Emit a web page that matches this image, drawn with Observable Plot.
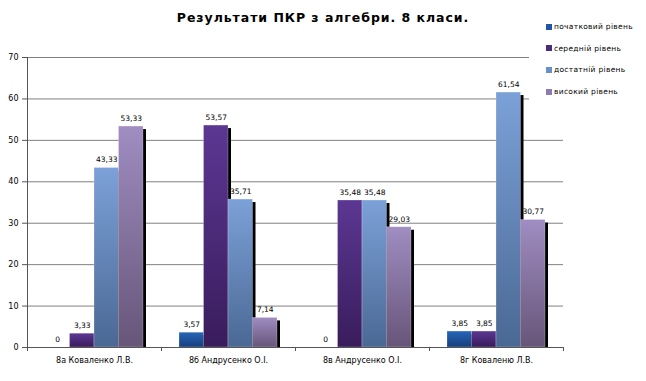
<!DOCTYPE html>
<html>
<head>
<meta charset="utf-8">
<script src="https://cdn.jsdelivr.net/npm/d3@7"></script>
<script src="https://cdn.jsdelivr.net/npm/@observablehq/plot@0.6"></script>
<style>
  html, body { margin: 0; padding: 0; background: #fff; }
  #wrap { position: relative; width: 646px; height: 381px; overflow: hidden; font-family: "DejaVu Sans", sans-serif; }
  #title { position: absolute; left: 0; width: 646px; top: 10px; text-align: center; font-weight: bold; font-size: 12.5px; letter-spacing: 0.95px; color: #000; }
  #legend { position: absolute; left: 529px; top: 12px; width: 117px; height: 94px; background: #fff; }
  .li { position: absolute; left: 17px; font-size: 7.5px; color: #000; white-space: nowrap; letter-spacing: 0.3px; }
  .sw { display: inline-block; width: 6px; height: 6px; margin-right: 2px; vertical-align: -0.5px; }
</style>
</head>
<body>
<div id="wrap">
  <div id="chart"></div>
  <div id="title">Результати ПКР з алгебри. 8 класи.</div>
  <div id="legend"></div>
</div>
<script>
const categories = ["8а Коваленко Л.В.", "8б Андрусенко О.І.", "8в Андрусенко О.І.", "8г Коваленю Л.В."];
const series = ["початковий рівень", "середній рівень", "достатній рівень", "високий рівень"];
const pochatkovyi = [0, 3.57, 0, 3.85];
const seredniy = [3.33, 53.57, 35.48, 3.85];
const dostatniy = [43.33, 35.71, 35.48, 61.54];
const vysokyi = [53.33, 7.14, 29.03, 30.77];
const yTicks = [0, 10, 20, 30, 40, 50, 60, 70];

const seriesValues = [pochatkovyi, seredniy, dostatniy, vysokyi];
const gradTop = ["#2766b8", "#5c3793", "#7ca1d8", "#a08dc2"];
const gradBot = ["#163f7e", "#391c5c", "#4a6894", "#675579"];
const legendColors = ["#1f55a3", "#4b2b7e", "#6a8fc8", "#8e7ab0"];

const rows = [];
series.forEach((s, i) => categories.forEach((c, j) => rows.push({cat: c, series: s, si: i, value: seriesValues[i][j]})));

const barW = 24.5;
const bandW = (646 - 27 - 83) / categories.length;
const inset = (bandW - barW) / 2;
const fmt = v => String(v).replace(".", ",");

const marks = [
  Plot.gridY(yTicks, {stroke: "#808080", strokeOpacity: 1, strokeWidth: 1})
];
series.forEach((s, i) => {
  const d = rows.filter(r => r.si === i && r.value > 0);
  marks.push(Plot.barY(d, {x: "cat", y: "value", fill: "#000", insetLeft: inset, insetRight: inset, insetTop: 3, dx: (i - 1.5) * barW + 3}));
});
series.forEach((s, i) => {
  const d = rows.filter(r => r.si === i);
  marks.push(Plot.barY(d, {x: "cat", y: "value", fill: `url(#grad${i})`, stroke: "#fff", strokeOpacity: 0.3, strokeWidth: 0.8, insetLeft: inset, insetRight: inset, dx: (i - 1.5) * barW}));
});
series.forEach((s, i) => {
  const d = rows.filter(r => r.si === i);
  marks.push(Plot.text(d, {x: "cat", y: "value", text: r => fmt(r.value), dx: (i - 1.5) * barW, dy: -8, fontSize: 7.5, fill: "#000"}));
});
marks.push(Plot.ruleY([0], {stroke: "#555"}));
marks.push(Plot.frame({anchor: "left", stroke: "#555"}));
marks.push(Plot.axisY(yTicks, {tickSize: 5, tickPadding: 4, fontSize: 8, stroke: "#555", fill: "#000", label: null}));
marks.push(Plot.axisX(categories, {tickSize: 0, tickPadding: 10, fontSize: 8, fill: "#000", label: null, style: {letterSpacing: "0.3px"}}));
marks.push(Plot.axisX(categories, {tickSize: 4, dx: -bandW / 2, text: null, stroke: "#555", label: null}));
marks.push(Plot.axisX([categories[categories.length - 1]], {tickSize: 4, dx: bandW / 2, text: null, stroke: "#555", label: null}));

const plot = Plot.plot({
  width: 646,
  height: 381,
  marginTop: 57,
  marginBottom: 34,
  marginLeft: 27,
  marginRight: 83,
  style: {fontFamily: "DejaVu Sans, sans-serif", background: "#fff"},
  x: {type: "band", domain: categories, padding: 0, axis: null},
  y: {domain: [0, 70], axis: null},
  marks
});

const ns = "http://www.w3.org/2000/svg";
const defs = document.createElementNS(ns, "defs");
gradTop.forEach((top, i) => {
  const g = document.createElementNS(ns, "linearGradient");
  g.setAttribute("id", `grad${i}`);
  g.setAttribute("x1", "0"); g.setAttribute("y1", "0");
  g.setAttribute("x2", "0"); g.setAttribute("y2", "1");
  const s1 = document.createElementNS(ns, "stop");
  s1.setAttribute("offset", "0"); s1.setAttribute("stop-color", top);
  const s2 = document.createElementNS(ns, "stop");
  s2.setAttribute("offset", "1"); s2.setAttribute("stop-color", gradBot[i]);
  g.appendChild(s1); g.appendChild(s2);
  defs.appendChild(g);
});
plot.insertBefore(defs, plot.firstChild);
document.getElementById("chart").appendChild(plot);

const legend = document.getElementById("legend");
series.forEach((s, i) => {
  const item = document.createElement("div");
  item.className = "li";
  item.style.top = (10 + i * 21.7) + "px";
  const sw = document.createElement("span");
  sw.className = "sw";
  sw.style.background = legendColors[i];
  item.appendChild(sw);
  item.appendChild(document.createTextNode(s));
  legend.appendChild(item);
});
</script>
</body>
</html>
